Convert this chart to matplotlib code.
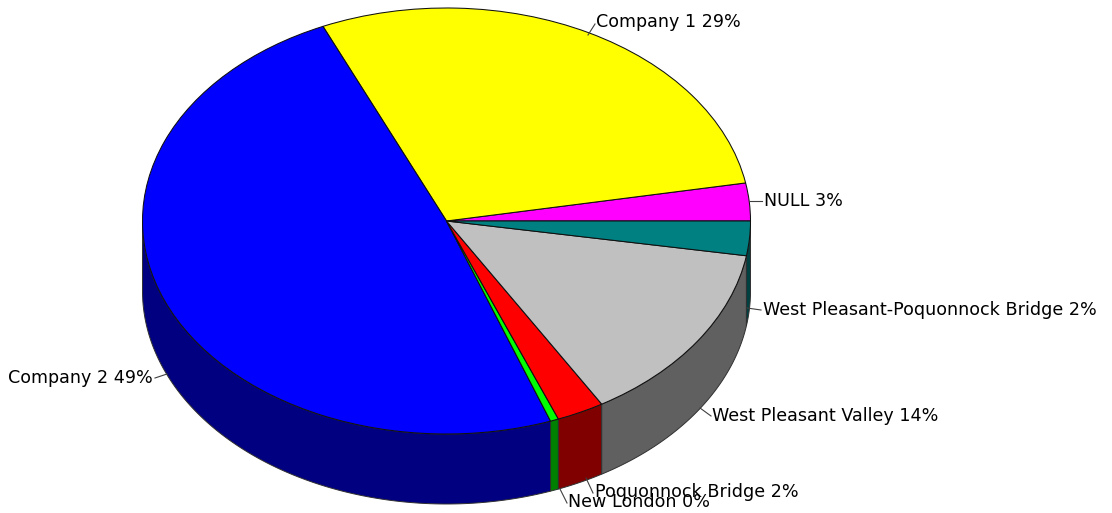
import numpy as np
import matplotlib
matplotlib.use("Agg")
import matplotlib.pyplot as plt

labels = ["NULL 3%", "Company 1 29%", "Company 2 49%", "New London 0%",
          "Poquonnock Bridge 2%", "West Pleasant Valley 14%",
          "West Pleasant-Poquonnock Bridge 2%"]
values = [2.86, 28.8, 48.9, 0.44, 2.53, 13.86, 2.61]
top_colors = ["#ff00ff", "#ffff00", "#0000ff", "#00ff00", "#ff0000", "#c0c0c0", "#008080"]
side_colors = ["#800080", "#808000", "#000080", "#008000", "#800000", "#606060", "#004040"]

W, H = 1112, 513
CX, CY, RX, RY, DEPTH = 446.5, 221, 304, 213, 70

fig = plt.figure(figsize=(W / 100, H / 100), dpi=100, facecolor="white")
ax = fig.add_axes([0, 0, 1, 1])

# Side walls: only the front half of the ellipse is visible
d = DEPTH / RY
fracs = np.cumsum([0] + values) / sum(values) * 360
for a0, a1, c in zip(fracs[:-1], fracs[1:], side_colors):
    lo, hi = max(a0, 180), min(a1, 360)
    if hi <= lo:
        continue
    t = np.radians(np.linspace(lo, hi, 120))
    x, y = np.cos(t), np.sin(t)
    ax.fill(np.r_[x, x[::-1]], np.r_[y, y[::-1] - d], facecolor=c,
            edgecolor="#303030", linewidth=0.7, zorder=1)

wedges, _ = ax.pie(values, colors=top_colors, startangle=0, counterclock=True, radius=1,
                   wedgeprops=dict(edgecolor="#101010", linewidth=0.75))
for w in wedges:
    w.set_zorder(2)

ax.set_aspect("auto")
ax.set_xlim(-CX / RX, (W - CX) / RX)
ax.set_ylim(-(H - CY) / RY, CY / RY)
ax.axis("off")

def px(x, y):
    return ((x - CX) / RX, (CY - y) / RY)

# Label anchor (x, centre y, ha) and leader end points, in pixels
placements = [
    (764, 201, "left", (750, 201), (762, 201)),
    (596, 22, "left", (588, 35), (595, 24)),
    (153, 378, "right", (167, 374), (155, 378)),
    (568, 502, "left", (560, 489), (567, 503)),
    (595, 492, "left", (586, 478), (593, 493)),
    (712, 416, "left", (700, 408), (711, 416)),
    (763, 310, "left", (747, 308), (761, 310)),
]
for lab, (tx, ty, ha, p0, p1) in zip(labels, placements):
    a, b = px(*p0), px(*p1)
    ax.plot([a[0], b[0]], [a[1], b[1]], color="#404040", linewidth=0.8, zorder=3)
    t = px(tx, ty)
    ax.text(t[0], t[1], lab, ha=ha, va="center", fontsize=12.6, color="black",
            family="DejaVu Sans", zorder=4)

fig.savefig("out.png", dpi=100, facecolor="white")
